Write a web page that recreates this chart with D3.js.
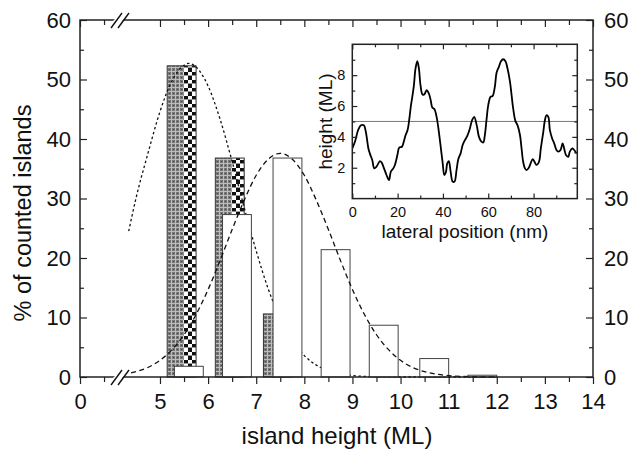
<!DOCTYPE html>
<html><head><meta charset="utf-8">
<script src="https://cdn.jsdelivr.net/npm/d3@7"></script>
<style>body{margin:0;background:#fff}svg{display:block}text{font-family:"Liberation Sans",Arial,sans-serif;fill:#111}</style>
</head><body>
<svg id="c" width="629" height="453"></svg>
<script>
// ---- data ----
const hatchCenters = [5.45, 6.45, 7.45];
const hatchValues  = [52.3, 36.8, 10.6];
const whiteCenters = [5.6, 6.6, 7.65, 8.65, 9.65, 10.7, 11.7];
const whiteValues  = [1.8, 27.3, 36.8, 21.4, 8.7, 3.1, 0.3];
const barWidth = 0.6;
const dottedX = [4.35,4.5,4.75,5.0,5.25,5.5,5.6,5.75,6.0,6.25,6.5,6.75,7.0,7.25,7.5,7.75,8.0,8.25,8.5,9.0,9.5,10.0,11.0,12.0];
const dottedY = [24.5,30.0,37.6,44.6,49.8,52.4,52.7,52.1,48.9,43.3,36.2,28.5,21.2,14.8,9.8,6.1,3.6,2.0,1.05,0.24,0.04,0.0,0.0,0.0];
const dashedX = [4.4,4.75,5.0,5.25,5.5,5.75,6.0,6.25,6.5,6.75,7.0,7.25,7.5,7.75,8.0,8.25,8.5,8.75,9.0,9.25,9.5,9.75,10.0,10.25,10.5,11.0,11.5,12.0];
const dashedY = [0.7,1.6,2.8,4.6,7.1,10.5,14.7,19.6,24.8,29.7,33.9,36.6,37.6,36.6,33.9,29.7,24.8,19.6,14.7,10.5,7.1,4.6,2.8,1.6,0.9,0.23,0.05,0.01];
const xMajorTicks = [0,5,6,7,8,9,10,11,12,13,14];
const xMinorTicks = [0.5,5.5,6.5,7.5,8.5,9.5,10.5,11.5,12.5,13.5];
const yMajorTicks = [0,10,20,30,40,50,60];
const yMinorTicks = [5,15,25,35,45,55];
// inset profile
const profX = [0,1.2,2.6,3.8,5.1,6.0,7.1,7.8,8.8,9.7,10.7,12.2,12.9,14,15.1,16.2,17,18.1,18.8,19.9,20.7,21.9,22.8,23.5,24.4,25.1,25.9,26.6,27.2,27.9,28.7,29.4,30.1,31,31.8,32.8,33.8,34.6,35.3,36.2,37.2,38.2,39.1,39.9,40.6,41.3,41.9,42.6,43.4,44.3,45.1,46.0,46.8,47.8,48.7,49.7,50.7,51.9,52.9,53.8,54.9,55.9,56.8,57.8,58.5,59.3,60,61,61.9,62.9,63.7,64.7,65.6,66.6,67.6,68.5,69.6,70.3,71,72,72.9,74,74.7,75.4,76.2,76.9,77.9,78.7,79.6,80.4,81.3,82.4,83.2,84.3,85,85.7,86.5,87.2,88.2,89.1,90.1,90.9,91.9,92.8,93.5,94.3,95.3,96,97.1,97.9,99];
const profY = [3.25,3.7,4.45,4.75,4.75,4.3,3.25,2.9,2.5,1.96,2.07,2.43,2.35,1.96,1.53,1.2,1.74,1.96,2.18,2.82,3.3,3.36,3.73,4.1,4.44,5.08,6.06,6.7,7.35,8.43,8.9,8.43,7.35,6.75,6.75,7.03,6.8,6.38,5.9,5.8,5.3,4.33,3.25,2.28,1.53,1.7,2.28,2.43,1.74,1.1,1.1,1.85,2.56,2.93,3.47,3.79,4.05,4.55,5.1,5.3,4.76,4.0,3.73,3.64,4.12,5.2,6.06,6.6,6.64,7.24,8.17,8.54,8.9,9.03,8.9,8.43,7.57,6.7,5.84,5.02,4.76,4.12,3.25,2.39,1.96,1.85,2.0,2.28,2.56,2.39,2.18,2.39,3.25,4.33,5.08,5.4,5.3,4.44,3.9,3.58,3.15,3.04,3.15,3.58,3.25,2.82,2.71,3.04,3.25,3.15,2.93];
const insetThreshold = 5;
const insetXTicks = [0,20,40,60,80];
const insetXMinor = [10,30,50,70,90];
const insetYTicks = [2,4,6,8];
const insetYMinor = [1,3,5,7,9];

// ---- drawing ----
const svg = d3.select("#c");
const L=80,R=593,T=20,B=377;
const x = d3.scaleLinear().domain([0,0.83,4.25,14]).range([L,119.9,123.9,R]);
const y = d3.scaleLinear().domain([0,60]).range([B,T]);

const defs = svg.append("defs");
const pc = defs.append("pattern").attr("id","coarse").attr("patternUnits","userSpaceOnUse").attr("width",8).attr("height",8);
pc.append("rect").attr("width",8).attr("height",8).attr("fill","#fff");
pc.append("rect").attr("width",4).attr("height",4).attr("fill","#111");
pc.append("rect").attr("x",4).attr("y",4).attr("width",4).attr("height",4).attr("fill","#111");
pc.append("rect").attr("x",0).attr("y",3).attr("width",8).attr("height",1).attr("fill","#999");
const pf = defs.append("pattern").attr("id","fine").attr("patternUnits","userSpaceOnUse").attr("width",4).attr("height",4);
pf.append("rect").attr("width",4).attr("height",4).attr("fill","#bdbdbd");
pf.append("rect").attr("width",3).attr("height",3).attr("fill","#767676");
pf.append("rect").attr("x",1).attr("y",1).attr("width",1).attr("height",1).attr("fill","#4a4a4a");

// hatched bars
const hb = svg.append("g");
hatchCenters.forEach((c,i)=>{
  const x0 = x(c-barWidth/2), x1 = x(c+barWidth/2), yt = y(hatchValues[i]);
  const w = x1-x0, split = w*0.57;
  hb.append("rect").attr("x",x0).attr("y",yt).attr("width",split).attr("height",B-yt).attr("fill","url(#fine)");
  hb.append("rect").attr("x",x0+split).attr("y",yt).attr("width",w-split).attr("height",B-yt).attr("fill","url(#coarse)");
  hb.append("rect").attr("x",x0).attr("y",yt).attr("width",w).attr("height",B-yt).attr("fill","none").attr("stroke","#333").attr("stroke-width",1);
});

const line = d3.line().x(d=>x(d[0])).y(d=>y(d[1])).curve(d3.curveMonotoneX);
svg.append("path").datum(dottedX.map((v,i)=>[v,dottedY[i]])).attr("d",line)
  .attr("fill","none").attr("stroke","#111").attr("stroke-width",1.3).attr("stroke-dasharray","2.5,2.5");

// white bars
svg.append("g").selectAll("rect").data(whiteCenters).join("rect")
  .attr("x",d=>x(d-barWidth/2)).attr("width",d=>x(d+barWidth/2)-x(d-barWidth/2))
  .attr("y",(d,i)=>y(whiteValues[i])).attr("height",(d,i)=>B-y(whiteValues[i]))
  .attr("fill","#fff").attr("stroke","#444").attr("stroke-width",1);

svg.append("path").datum(dashedX.map((v,i)=>[v,dashedY[i]])).attr("d",line)
  .attr("fill","none").attr("stroke","#111").attr("stroke-width",1.3).attr("stroke-dasharray","5,3.5");

// axes
function axisG(axis, tr){ const g = svg.append("g").attr("transform",tr).call(axis); g.select(".domain").remove(); g.selectAll("line").attr("stroke","#222").attr("stroke-width",1.2); return g; }
const fmt = ()=>"";
const gb = axisG(d3.axisBottom(x).tickValues(xMajorTicks).tickSize(7).tickPadding(9), `translate(0,${B})`);
gb.selectAll("text").attr("font-size",22).attr("font-family","Liberation Sans, Arial, sans-serif").attr("fill","#111");
axisG(d3.axisBottom(x).tickValues(xMinorTicks).tickSize(5).tickFormat(fmt), `translate(0,${B})`);
axisG(d3.axisTop(x).tickValues(xMajorTicks).tickSize(-7).tickFormat(fmt), `translate(0,${T})`);
axisG(d3.axisTop(x).tickValues(xMinorTicks).tickSize(-5).tickFormat(fmt), `translate(0,${T})`);
const gl = axisG(d3.axisLeft(y).tickValues(yMajorTicks).tickSize(-7).tickPadding(9), `translate(${L},0)`);
gl.selectAll("text").attr("font-size",22).attr("font-family","Liberation Sans, Arial, sans-serif").attr("fill","#111");
axisG(d3.axisLeft(y).tickValues(yMinorTicks).tickSize(-4).tickFormat(fmt), `translate(${L},0)`);
const gr = axisG(d3.axisRight(y).tickValues(yMajorTicks).tickSize(-7).tickPadding(11), `translate(${R},0)`);
gr.selectAll("text").attr("font-size",22).attr("font-family","Liberation Sans, Arial, sans-serif").attr("fill","#111");
axisG(d3.axisRight(y).tickValues(yMinorTicks).tickSize(-4).tickFormat(fmt), `translate(${R},0)`);
svg.append("rect").attr("x",L).attr("y",T).attr("width",R-L).attr("height",B-T).attr("fill","none").attr("stroke","#222").attr("stroke-width",1.5);

// axis break marks
[T,B].forEach(yy=>{
  const g = svg.append("g");
  g.append("polygon").attr("points",`${112},${yy+2} ${121},${yy+2} ${125},${yy-2} ${116},${yy-2}`).attr("fill","#fff");
  g.append("line").attr("x1",111).attr("y1",yy+8).attr("x2",122).attr("y2",yy-7).attr("stroke","#111").attr("stroke-width",1.4);
  g.append("line").attr("x1",118).attr("y1",yy+8).attr("x2",129).attr("y2",yy-7).attr("stroke","#111").attr("stroke-width",1.4);
});

// axis titles
svg.append("text").attr("x",337).attr("y",444).attr("text-anchor","middle").attr("font-size",24).text("island height (ML)");
svg.append("text").attr("transform","translate(31,213) rotate(-90)").attr("text-anchor","middle").attr("font-size",23.5).text("% of counted islands");

// ---- inset ----
const iL=352.3,iR=577.3,iT=44.3,iB=198.6;
const ix = d3.scaleLinear().domain([0,99.3]).range([iL,iR]);
const iy = d3.scaleLinear().domain([0,10]).range([iB,iT]);
svg.append("rect").attr("x",iL).attr("y",iT).attr("width",iR-iL).attr("height",iB-iT).attr("fill","#fff");
svg.append("line").attr("x1",iL).attr("x2",iR).attr("y1",iy(insetThreshold)).attr("y2",iy(insetThreshold)).attr("stroke","#777").attr("stroke-width",1);
defs.append("clipPath").attr("id","iclip").append("rect").attr("x",iL).attr("y",iT).attr("width",iR-iL).attr("height",iB-iT);
svg.append("path").datum(profX.map((v,i)=>[v,profY[i]])).attr("clip-path","url(#iclip)")
  .attr("d",d3.line().x(d=>ix(d[0])).y(d=>iy(d[1])).curve(d3.curveCatmullRom))
  .attr("fill","none").attr("stroke","#000").attr("stroke-width",1.8);
const ibx = axisG(d3.axisBottom(ix).tickValues(insetXTicks).tickSize(-5).tickPadding(8), `translate(0,${iB})`);
ibx.selectAll("text").attr("font-size",14.5).attr("fill","#111");
axisG(d3.axisBottom(ix).tickValues(insetXMinor).tickSize(-3).tickFormat(fmt), `translate(0,${iB})`);
axisG(d3.axisTop(ix).tickValues(insetXTicks).tickSize(-5).tickFormat(fmt), `translate(0,${iT})`);
axisG(d3.axisTop(ix).tickValues(insetXMinor).tickSize(-3).tickFormat(fmt), `translate(0,${iT})`);
const ily = axisG(d3.axisLeft(iy).tickValues(insetYTicks).tickSize(-5).tickPadding(7), `translate(${iL},0)`);
ily.selectAll("text").attr("font-size",14.5).attr("fill","#111");
axisG(d3.axisLeft(iy).tickValues(insetYMinor).tickSize(-3).tickFormat(fmt), `translate(${iL},0)`);
axisG(d3.axisRight(iy).tickValues(insetYTicks).tickSize(-5).tickFormat(fmt), `translate(${iR},0)`);
axisG(d3.axisRight(iy).tickValues(insetYMinor).tickSize(-3).tickFormat(fmt), `translate(${iR},0)`);
svg.append("rect").attr("x",iL).attr("y",iT).attr("width",iR-iL).attr("height",iB-iT).attr("fill","none").attr("stroke","#222").attr("stroke-width",1.5);
svg.append("text").attr("x",465).attr("y",238).attr("text-anchor","middle").attr("font-size",19).text("lateral position (nm)");
svg.append("text").attr("transform","translate(332,121.5) rotate(-90)").attr("text-anchor","middle").attr("font-size",19).text("height (ML)");
</script>
</body></html>
